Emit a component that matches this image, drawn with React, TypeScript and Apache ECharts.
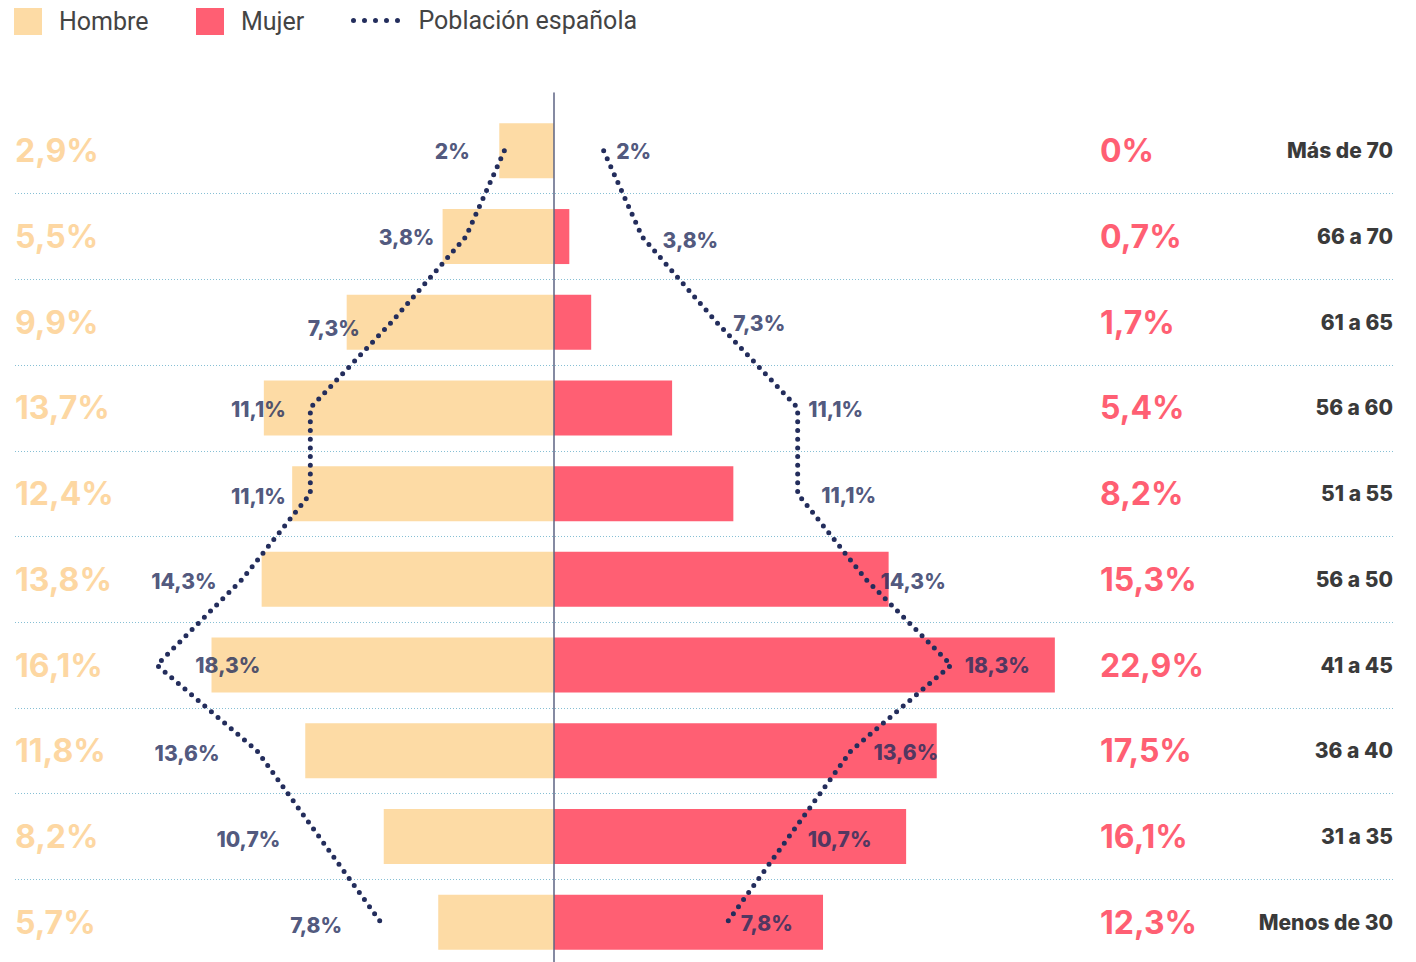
import React, { useEffect, useRef } from 'react';
import * as echarts from 'echarts';

const categories = ['Más de 70', '66 a 70', '61 a 65', '56 a 60', '51 a 55', '56 a 50', '41 a 45', '36 a 40', '31 a 35', 'Menos de 30'];
const hombre = [2.9, 5.5, 9.9, 13.7, 12.4, 13.8, 16.1, 11.8, 8.2, 5.7];
const mujer = [0, 0.7, 1.7, 5.4, 8.2, 15.3, 22.9, 17.5, 16.1, 12.3];
const poblacion = [2, 3.8, 7.3, 11.1, 11.1, 14.3, 18.3, 13.6, 10.7, 7.8];

// label placement (styling only)
const leftLabelSide = ['left', 'left', 'left', 'left', 'left', 'left', 'right', 'left', 'left', 'left'];
const leftLabelGap = [34, 31, 31, 24, 24, 25, 38, 37, 38, 38];
const leftLabelDy = [1, 1, 6, 2, 3, 2, 0, 3, 3, 3];
const rightLabelGap = [12, 20, 16, 10, 23, 14, 13, 22, 18, 13];
const rightLabelDy = [1, 4, 1, 2, 2, 2, 0, 2, 3, 1];

const NAVY = '#232d5c';
const PEACH = '#FDDBA5';
const PEACH_TEXT = '#FDD7A2';
const PINK = '#FF5F73';
const FONT = 'Inter';

const fmt = (v: number) => String(v).replace('.', ',') + '%';

const TOP = 108;
const H = 857;

function buildOption(): any {
  const lineStyle = { color: NAVY, width: 5, type: [0, 8.7], cap: 'round' };
  const labelBase = { show: true, color: NAVY, fontFamily: FONT, fontWeight: 800, fontSize: 21 };
  const legendText = { fontFamily: 'Roboto', fontSize: 25, color: '#444444', padding: [0, 0, 0, 12] };
  return {
    animation: false,
    backgroundColor: '#ffffff',
    legend: [
      { left: 14, top: 8, padding: 0, data: [{ name: 'Hombre', icon: 'rect' }], itemWidth: 28, itemHeight: 27, textStyle: legendText, selectedMode: false },
      { left: 196, top: 8, padding: 0, data: [{ name: 'Mujer', icon: 'rect' }], itemWidth: 28, itemHeight: 27, textStyle: legendText, selectedMode: false },
      {
        left: 351, top: 8, padding: 0,
        data: [{ name: 'Población española', itemStyle: { opacity: 0 } }],
        itemWidth: 48, itemHeight: 27,
        itemStyle: { opacity: 0 },
        lineStyle: { color: NAVY, width: 5, type: [0, 11], cap: 'round' },
        textStyle: { ...legendText, padding: [0, 0, 0, 12] }, selectedMode: false,
      },
    ],
    grid: [
      { left: 14, top: TOP, width: 540, height: H, containLabel: false, outerBoundsMode: 'none' },
      { left: 554, top: TOP, width: 540, height: H, containLabel: false, outerBoundsMode: 'none' },
      { left: 15, top: TOP, width: 1378, height: H, containLabel: false, outerBoundsMode: 'none' },
      { left: 1098, top: TOP, width: 200, height: H, containLabel: false, outerBoundsMode: 'none' },
      { left: 554, top: 93, width: 1, height: 869, containLabel: false, outerBoundsMode: 'none' },
    ],
    xAxis: [
      { gridIndex: 0, type: 'value', inverse: true, min: 0.39, max: 25.16, show: false },
      { gridIndex: 0, type: 'value', inverse: true, min: -0.33, max: 25, show: false, position: 'top' },
      { gridIndex: 1, type: 'value', min: 0, max: 24.69, show: false },
      { gridIndex: 1, type: 'value', min: -0.33, max: 25, show: false, position: 'top' },
      { gridIndex: 2, type: 'value', min: 0, max: 1, show: false },
      { gridIndex: 3, type: 'value', min: 0, max: 1, show: false },
      { gridIndex: 4, type: 'value', min: 0, max: 1, show: false },
    ],
    yAxis: [
      { gridIndex: 0, type: 'category', data: categories, inverse: true, show: false },
      { gridIndex: 1, type: 'category', data: categories, inverse: true, show: false },
      {
        gridIndex: 2, type: 'category', data: categories, inverse: true, position: 'left',
        axisLine: { show: false }, axisTick: { show: false },
        axisLabel: {
          inside: true, margin: 0, interval: 0,
          formatter: (_v: string, i: number) => fmt(hombre[i]),
          color: PEACH_TEXT, fontSize: 32, fontWeight: 700, fontFamily: FONT,
        },
        splitLine: {
          show: true,
          interval: (i: number) => i !== 0,
          lineStyle: { color: '#86bfd4', width: 1, type: [1, 2] },
        },
      },
      {
        gridIndex: 2, type: 'category', data: categories, inverse: true, position: 'right',
        axisLine: { show: false }, axisTick: { show: false }, splitLine: { show: false },
        axisLabel: { inside: true, margin: 0, interval: 0, color: '#3a3a3a', fontSize: 21, fontWeight: 800, fontFamily: FONT },
      },
      {
        gridIndex: 3, type: 'category', data: categories, inverse: true, position: 'left',
        axisLine: { show: false }, axisTick: { show: false }, splitLine: { show: false },
        axisLabel: {
          inside: true, margin: 2, interval: 0,
          formatter: (_v: string, i: number) => fmt(mujer[i]),
          color: PINK, fontSize: 32, fontWeight: 700, fontFamily: FONT,
        },
      },
      {
        gridIndex: 4, type: 'value', min: 0, max: 1, z: 5,
        axisLine: { show: true, lineStyle: { color: '#5d6383', width: 1.5 } },
        axisLabel: { show: false }, axisTick: { show: false }, splitLine: { show: false },
      },
    ],
    series: [
      { name: 'Hombre', type: 'bar', xAxisIndex: 0, yAxisIndex: 0, data: hombre, barWidth: 55, clip: true, itemStyle: { color: PEACH } },
      { name: 'Mujer', type: 'bar', xAxisIndex: 2, yAxisIndex: 1, data: mujer, barWidth: 55, itemStyle: { color: PINK } },
      { name: 'Población española', type: 'line', xAxisIndex: 1, yAxisIndex: 0, data: poblacion, symbol: 'none', symbolSize: 0, lineStyle, itemStyle: { color: NAVY }, z: 3 },
      { name: 'Población española', type: 'line', xAxisIndex: 3, yAxisIndex: 1, data: poblacion, symbol: 'none', symbolSize: 0, lineStyle, itemStyle: { color: NAVY }, z: 3 },
      {
        type: 'scatter', xAxisIndex: 1, yAxisIndex: 0, symbolSize: 1, itemStyle: { color: 'rgba(0,0,0,0)' }, z: 4,
        label: { ...labelBase, formatter: (p: any) => fmt(p.value[0]) },
        data: poblacion.map((v, i) => ({
          value: [v, categories[i]],
          label: { position: leftLabelSide[i], distance: leftLabelGap[i], offset: [0, leftLabelDy[i]] },
        })),
      },
      {
        type: 'scatter', xAxisIndex: 3, yAxisIndex: 1, symbolSize: 1, itemStyle: { color: 'rgba(0,0,0,0)' }, z: 4,
        label: { ...labelBase, formatter: (p: any) => fmt(p.value[0]) },
        data: poblacion.map((v, i) => ({
          value: [v, categories[i]],
          label: { position: 'right', distance: rightLabelGap[i], offset: [0, rightLabelDy[i]] },
        })),
      },
    ],
  };
}

export default function App() {
  const ref = useRef<HTMLDivElement>(null);
  useEffect(() => {
    if (!ref.current) return;
    const chart = echarts.init(ref.current, null, { renderer: 'svg' });
    chart.setOption(buildOption());
    return () => chart.dispose();
  }, []);
  return (
    <div
      ref={ref}
      style={{ position: 'absolute', left: 0, top: 0, width: 1416, height: 962, background: '#ffffff' }}
    />
  );
}
